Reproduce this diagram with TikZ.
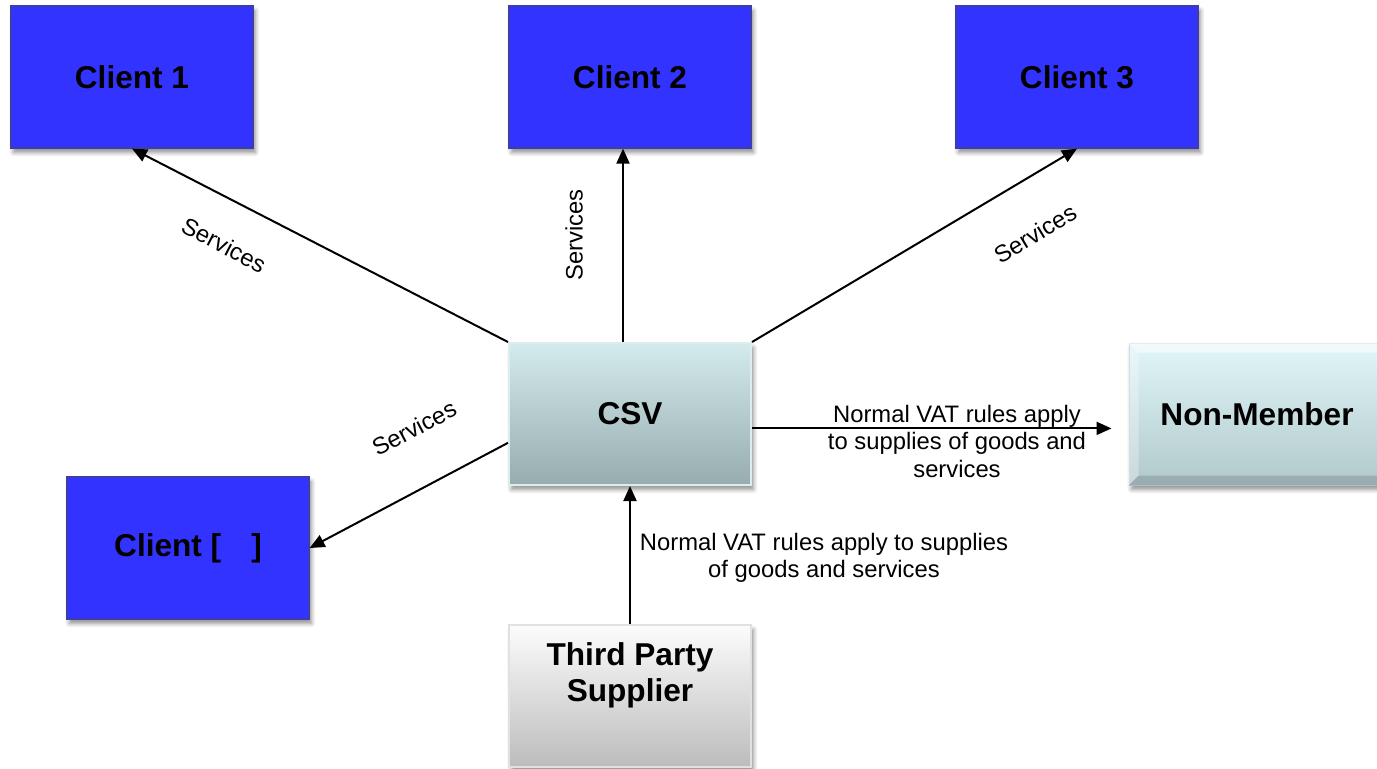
\documentclass[tikz,border=0pt]{standalone}
\usepackage{fontspec}
\setmainfont{Liberation Sans}
\usetikzlibrary{arrows.meta,calc,shadows.blur}

\definecolor{clientblue}{RGB}{51,51,255}
\definecolor{clientedge}{RGB}{62,62,170}
\definecolor{csvtop}{RGB}{212,235,238}
\definecolor{csvbot}{RGB}{150,172,175}
\definecolor{csvedge}{RGB}{222,236,237}
\definecolor{nmtop}{RGB}{224,246,249}
\definecolor{nmbot}{RGB}{178,201,204}
\definecolor{tpstop}{RGB}{252,252,252}
\definecolor{tpsbot}{RGB}{188,188,188}
\definecolor{tpsedge}{RGB}{225,225,225}

\begin{document}
\begin{tikzpicture}[x=0.5pt,y=-0.5pt,
  box/.style={minimum width=121pt, minimum height=71pt, inner sep=0pt,
    font=\fontsize{15.8}{18}\selectfont\bfseries, align=center,
    blur shadow={shadow xshift=1.2pt, shadow yshift=-2.2pt,
      shadow blur steps=6, shadow opacity=45}},
  client/.style={box, fill=clientblue, draw=clientedge, line width=0.6pt},
  link/.style={line width=1pt, -{Triangle[length=7.5pt,width=6.5pt]}},
  lbl/.style={font=\fontsize{11.9}{13.75}\selectfont, align=center, inner sep=0pt},
]
\useasboundingbox (0,0) rectangle (1377,768);

% client boxes
\node[client] (c1) at (132,77) {Client 1};
\node[client] (c2) at (630,77) {Client 2};
\node[client] (c3) at (1077,77) {Client 3};
\node[client] (cx) at (188,548) {Client [\hspace{0.95em}]};

% central vehicle
\node[box, top color=csvtop, bottom color=csvbot, draw=csvedge, line width=1pt] (csv) at (630,414) {CSV};

% non-member with bevelled edges
\node[box, minimum width=132pt, top color=nmtop, bottom color=nmbot, draw=nmbot!80!white, line width=0.5pt] (nm) at (1261,414) {};
\fill[white, opacity=0.55] (nm.north west) -- (nm.north east) -- ([shift={(-5pt,-5pt)}]nm.north east) -- ([shift={(5pt,-5pt)}]nm.north west) -- cycle;
\fill[white, opacity=0.3] (nm.north west) -- ([shift={(5pt,-5pt)}]nm.north west) -- ([shift={(5pt,5pt)}]nm.south west) -- (nm.south west) -- cycle;
\fill[black, opacity=0.14] (nm.south west) -- ([shift={(5pt,5pt)}]nm.south west) -- ([shift={(-5pt,5pt)}]nm.south east) -- (nm.south east) -- cycle;
\fill[black, opacity=0.08] (nm.north east) -- ([shift={(-5pt,-5pt)}]nm.north east) -- ([shift={(-5pt,5pt)}]nm.south east) -- (nm.south east) -- cycle;
\node[font=\fontsize{15.8}{18}\selectfont\bfseries] (nmtext) at (1257,414) {Non-Member};

% third party supplier
\node[box, top color=tpstop, bottom color=tpsbot, draw=tpsedge, line width=1pt] (tps) at (630,696) {};
\node[font=\fontsize{15.8}{18}\selectfont\bfseries, align=center, inner sep=0pt] (tpstext) at (630,675) {Third Party\\Supplier};

% connectors
\draw[link] (csv.north west) -- (c1.south);
\draw[link] ([xshift=-3.5pt]csv.north) -- ([xshift=-3.5pt]c2.south);
\draw[link] (csv.north east) -- (c3.south);
\draw[link] ($(csv.north west)!0.7!(csv.south west)$) -- (cx.east);
\coordinate (nmport) at ($(csv.north east)!0.6!(csv.south east)$);
\draw[link, shorten >=8.5pt] (nmport) -- (nmport -| nm.west);
\draw[link] (tps.north) -- (csv.south);

% connector labels
\node[lbl, rotate=-27.5] (l1) at (224,245) {Services};
\node[lbl, rotate=90] (l2) at (574,235) {Services};
\node[lbl, rotate=31] (l3) at (1035,234) {Services};
\node[lbl, rotate=27.6] (l4) at (414,428) {Services};
\node[lbl] (l5) at (957,441) {Normal VAT rules apply\\to supplies of goods and\\services};
\node[lbl] (l6) at (824,558) {Normal VAT rules apply to supplies\\of goods and services};
\end{tikzpicture}
\end{document}
